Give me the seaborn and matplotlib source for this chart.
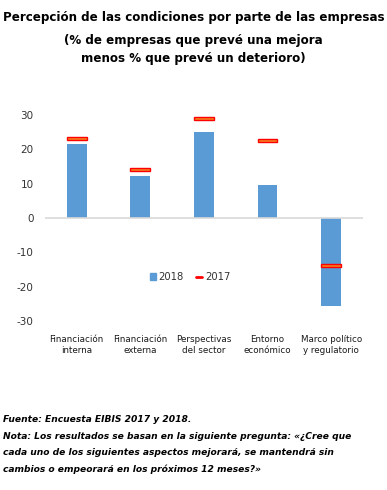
import pandas as pd
import seaborn as sns
import matplotlib.pyplot as plt
from matplotlib.lines import Line2D
from matplotlib.patches import Patch

# Data
categories = ['Financiación\ninterna', 'Financiación\nexterna', 'Perspectivas\ndel sector',
              'Entorno\neconómico', 'Marco político\ny regulatorio']
values_2018 = [21.6, 12.2, 25.1, 9.6, -25.6]
values_2017 = [23.1, 14.1, 29.0, 22.5, -13.9]
yticks = [-30, -20, -10, 0, 10, 20, 30]

df = pd.DataFrame({'categoria': categories, '2018': values_2018, '2017': values_2017})

sns.set_theme(style='white')
plt.rcParams['font.family'] = ['DejaVu Sans']

fig = plt.figure(figsize=(3.87, 4.9), dpi=100)
ax = fig.add_axes([0.116, 0.345, 0.822, 0.42])

# 2018 bars
sns.barplot(data=df, x='categoria', y='2018', color='#5b9bd5', width=0.31,
            saturation=1, linewidth=0, ax=ax)

# 2017 markers: short thick red/orange dashes
ax.bar(range(len(categories)), 0.9, bottom=[v - 0.45 for v in values_2017], width=0.31,
       color='#f58220', edgecolor='#ff0000', linewidth=1.0, zorder=3)

ax.axhline(0, color='#d9d9d9', lw=1.2, zorder=1)
ax.set_ylim(-30, 30)
ax.set_xlim(-0.5, len(categories) - 0.5)
ax.set_yticks(yticks)
ax.set_yticklabels([str(t) for t in yticks], fontsize=7.5, color='#333333')
ax.set_xticklabels(categories, fontsize=6.3, color='#1a1a1a', linespacing=1.3)
ax.tick_params(axis='both', length=0)
ax.tick_params(axis='x', pad=10)
ax.tick_params(axis='y', pad=8)
ax.set_xlabel('')
ax.set_ylabel('')
sns.despine(ax=ax, left=True, bottom=True)

handles = [Patch(color='#5b9bd5', label='2018'),
           Line2D([0], [0], color='#ff0000', lw=2, label='2017')]
ax.legend(handles=handles, loc='center', bbox_to_anchor=(0.456, 0.214), ncol=2,
          frameon=False, fontsize=7.2, handlelength=0.6, handleheight=0.6,
          columnspacing=1.2, handletextpad=0.3, labelcolor='#333333')

# Title
title_lines = ['Percepción de las condiciones por parte de las empresas',
               '(% de empresas que prevé una mejora',
               'menos % que prevé un deterioro)']
for y, line in zip([0.965, 0.918, 0.881], title_lines):
    fig.text(0.5, y, line, ha='center', va='center', fontsize=8.6,
             fontweight='bold', color='black')

# Footnote
notes = ['Fuente: Encuesta EIBIS 2017 y 2018.',
         'Nota: Los resultados se basan en la siguiente pregunta: «¿Cree que',
         'cada uno de los siguientes aspectos mejorará, se mantendrá sin',
         'cambios o empeorará en los próximos 12 meses?»']
for i, line in enumerate(notes):
    fig.text(0.008, 0.143 - i * 0.0335, line, ha='left', va='center', fontsize=6.6,
             style='italic', fontweight='bold', color='black')

fig.savefig('out.png', dpi=100)
